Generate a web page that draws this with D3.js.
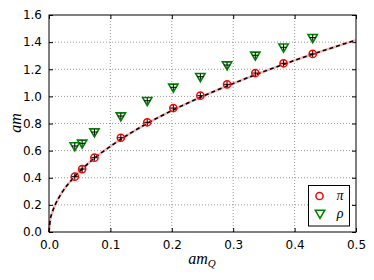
<!DOCTYPE html>
<html><head><meta charset="utf-8">
<script src="https://d3js.org/d3.v7.min.js"></script>
<style>body{margin:0;background:#fff}svg{display:block}</style>
</head><body><svg id="c" width="374" height="280"></svg>
<script>
const amQ   = [0.042, 0.054, 0.074, 0.117, 0.160, 0.2025, 0.2465, 0.290, 0.336, 0.382, 0.4295];
const amPi  = [0.408, 0.464, 0.548, 0.695, 0.809, 0.914, 1.005, 1.089, 1.172, 1.244, 1.313];
const amRho = [0.634, 0.654, 0.737, 0.855, 0.968, 1.067, 1.145, 1.231, 1.303, 1.362, 1.433];
const fitX  = [0, 0.002, 0.005, 0.01, 0.02, 0.04, 0.06, 0.08, 0.1, 0.15, 0.2, 0.25, 0.3, 0.35, 0.4, 0.45, 0.5];
const fitY  = [0, 0.09, 0.14, 0.2, 0.283, 0.40, 0.49, 0.566, 0.632, 0.775, 0.895, 1.0, 1.095, 1.183, 1.265, 1.342, 1.415];
const xTicks = [0.0, 0.1, 0.2, 0.3, 0.4, 0.5];
const yTicks = [0.0, 0.2, 0.4, 0.6, 0.8, 1.0, 1.2, 1.4, 1.6];
const seriesNames = ["π", "ρ"];

const svg = d3.select("#c");
const L = 49, R = 356, T = 15, B = 232;
const x = d3.scaleLinear().domain([0, 0.5]).range([L, R]);
const y = d3.scaleLinear().domain([0, 1.6]).range([B, T]);

// grid
const g = svg.append("g");
g.selectAll(".gx").data(xTicks.slice(1, -1)).enter().append("line")
  .attr("x1", d => x(d)).attr("x2", d => x(d)).attr("y1", T).attr("y2", B)
  .attr("stroke", "#999").attr("stroke-width", 1).attr("stroke-dasharray", "1,2");
g.selectAll(".gy").data(yTicks.slice(1, -1)).enter().append("line")
  .attr("y1", d => y(d)).attr("y2", d => y(d)).attr("x1", L).attr("x2", R)
  .attr("stroke", "#999").attr("stroke-width", 1).attr("stroke-dasharray", "1,2");

// axes (ticks inside)
const fmt = d3.format(".1f");
const ax = svg.append("g").attr("transform", `translate(0,${B})`)
  .call(d3.axisBottom(x).tickValues(xTicks).tickFormat(fmt).tickSizeInner(-4).tickSizeOuter(0).tickPadding(8));
const ay = svg.append("g").attr("transform", `translate(${L},0)`)
  .call(d3.axisLeft(y).tickValues(yTicks).tickFormat(fmt).tickSizeInner(-4).tickSizeOuter(0).tickPadding(7));
const axT = svg.append("g").attr("transform", `translate(0,${T})`)
  .call(d3.axisTop(x).tickValues(xTicks).tickFormat("").tickSizeInner(-4).tickSizeOuter(0));
const ayR = svg.append("g").attr("transform", `translate(${R},0)`)
  .call(d3.axisRight(y).tickValues(yTicks).tickFormat("").tickSizeInner(-4).tickSizeOuter(0));
[ax, ay, axT, ayR].forEach(a => {
  a.select(".domain").remove();
  a.selectAll("text").attr("font-family", "DejaVu Sans").attr("font-size", 12).attr("fill", "#000");
  a.selectAll("line").attr("stroke", "#000");
});

// fit lines
const line = d3.line().x(d => x(d[0])).y(d => y(d[1])).curve(d3.curveMonotoneX);
const pts = fitX.map((v, i) => [v, fitY[i]]);
svg.append("path").attr("d", line(pts)).attr("fill", "none").attr("stroke", "#f8b4b4").attr("stroke-width", 2.5);
svg.append("path").attr("d", line(pts)).attr("fill", "none").attr("stroke", "#000").attr("stroke-width", 1.6).attr("stroke-dasharray", "4,3");

// markers
function cross(sel, xs, ys) {
  xs.forEach((v, i) => {
    sel.append("line").attr("x1", x(v) - 3).attr("x2", x(v) + 3).attr("y1", y(ys[i])).attr("y2", y(ys[i])).attr("stroke", "#000").attr("stroke-width", 1);
    sel.append("line").attr("x1", x(v)).attr("x2", x(v)).attr("y1", y(ys[i]) - 3).attr("y2", y(ys[i]) + 3).attr("stroke", "#000").attr("stroke-width", 1);
  });
}
const tri = d3.symbol().type(d3.symbolTriangle).size(38);
const mk = svg.append("g");
amQ.forEach((v, i) => {
  mk.append("path").attr("d", tri()).attr("transform", `translate(${x(v)},${y(amRho[i]) - 0.5}) rotate(180)`)
    .attr("fill", "none").attr("stroke", "#008000").attr("stroke-width", 1.6);
});
cross(mk, amQ, amRho);
amQ.forEach((v, i) => {
  mk.append("circle").attr("cx", x(v)).attr("cy", y(amPi[i])).attr("r", 3.6)
    .attr("fill", "none").attr("stroke", "#ff0000").attr("stroke-width", 1.5);
});
cross(mk, amQ, amPi);

// frame
svg.append("rect").attr("x", L).attr("y", T).attr("width", R - L).attr("height", B - T)
  .attr("fill", "none").attr("stroke", "#000").attr("stroke-width", 1);

// legend
const lg = svg.append("g");
lg.append("rect").attr("x", 308.5).attr("y", 185.5).attr("width", 41).attr("height", 40.5)
  .attr("fill", "#fff").attr("stroke", "#000").attr("stroke-width", 1);
lg.append("circle").attr("cx", 319.5).attr("cy", 196).attr("r", 3.6).attr("fill", "none").attr("stroke", "#ff0000").attr("stroke-width", 1.5);
lg.append("path").attr("d", tri()).attr("transform", `translate(320,213) rotate(180)`)
  .attr("fill", "none").attr("stroke", "#008000").attr("stroke-width", 1.6);
lg.selectAll("text.l").data(seriesNames).enter().append("text")
  .attr("x", 340).attr("y", (d, i) => 200 + i * 17.5).attr("text-anchor", "middle")
  .attr("font-family", "Liberation Serif").attr("font-style", "italic").attr("font-size", 14).text(d => d);

// axis labels
const xl = svg.append("text").attr("x", 202).attr("y", 264).attr("text-anchor", "middle")
  .attr("font-family", "Liberation Serif").attr("font-style", "italic").attr("font-size", 16);
xl.append("tspan").text("am");
xl.append("tspan").attr("font-size", 11).attr("dy", 3).text("Q");
svg.append("text").attr("transform", "translate(21,123) rotate(-90)").attr("text-anchor", "middle")
  .attr("font-family", "Liberation Serif").attr("font-style", "italic").attr("font-size", 16).text("am");
</script></body></html>
